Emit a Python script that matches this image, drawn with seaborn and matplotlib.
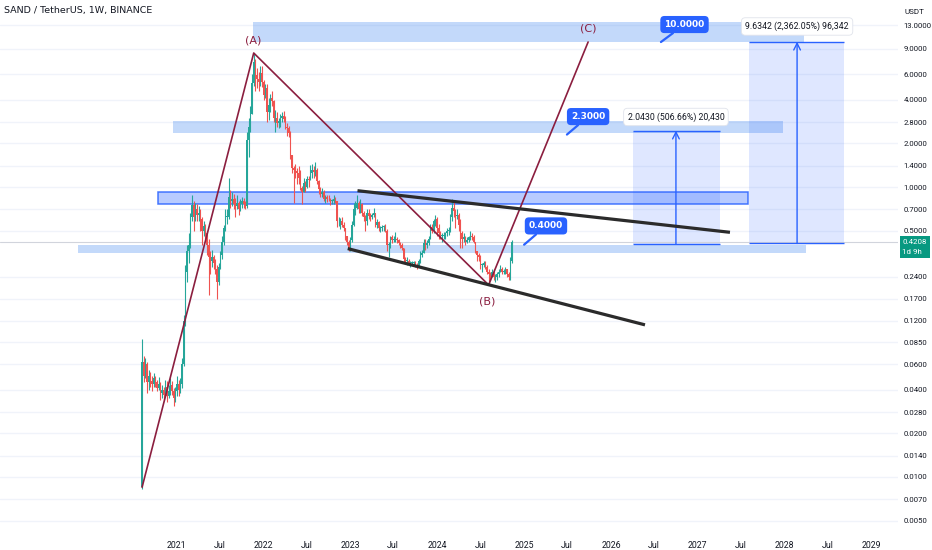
import numpy as np
import pandas as pd
import matplotlib
matplotlib.use("Agg")
import matplotlib.pyplot as plt
import matplotlib.dates as mdates
from matplotlib.patches import Rectangle
from matplotlib.ticker import NullLocator
import seaborn as sns

sns.set_style("white")
plt.rcParams['font.family'] = ['DejaVu Sans']
NARROW = ['Liberation Sans Narrow', 'Roboto', 'DejaVu Sans']

# ---------------- weekly candles (SAND/USDT, week starts) ----------------
first_week = "2020-08-10"
first_open = 0.0085

close_2020 = [0.062, 0.050, 0.060, 0.045, 0.050, 0.046, 0.044, 0.048, 0.045, 0.041, 0.044,
              0.038, 0.040, 0.037, 0.042, 0.036, 0.039, 0.043, 0.039, 0.035, 0.039]
high_2020 = [0.090, 0.068, 0.066, 0.062, 0.055, 0.053, 0.050, 0.052, 0.050, 0.047, 0.049,
             0.045, 0.043, 0.042, 0.047, 0.046, 0.043, 0.048, 0.046, 0.041, 0.042]
low_2020 = [0.0083, 0.045, 0.048, 0.038, 0.040, 0.042, 0.039, 0.042, 0.042, 0.039, 0.040,
            0.034, 0.035, 0.034, 0.036, 0.033, 0.035, 0.037, 0.037, 0.031, 0.033]

close_2021 = [0.044, 0.040, 0.044, 0.060,
              0.12, 0.26, 0.36, 0.40,
              0.62, 0.75, 0.62, 0.70, 0.64,
              0.66, 0.60, 0.50, 0.54,
              0.48, 0.40, 0.33, 0.31, 0.33,
              0.30, 0.27, 0.22, 0.28,
              0.34, 0.42, 0.52, 0.62,
              0.62, 0.85, 0.80, 0.82, 0.76,
              0.74, 0.78, 0.70, 0.76,
              0.80, 0.76, 0.74, 2.10,
              2.60, 3.20, 5.20, 7.30, 5.90,
              5.60, 5.30, 6.10, 5.30]
high_2021 = [0.050, 0.047, 0.048, 0.066,
             0.13, 0.29, 0.40, 0.48,
             0.66, 0.88, 0.80, 0.78, 0.76,
             0.74, 0.70, 0.62, 0.58,
             0.56, 0.50, 0.44, 0.36, 0.37,
             0.34, 0.32, 0.29, 0.30,
             0.36, 0.46, 0.55, 0.70,
             0.70, 1.15, 0.95, 0.92, 0.90,
             0.84, 0.88, 0.80, 0.82,
             0.86, 0.84, 0.80, 2.40,
             3.00, 3.60, 6.00, 8.40, 7.60,
             6.60, 6.20, 6.80, 6.80]
low_2021 = [0.036, 0.036, 0.038, 0.041,
            0.058, 0.11, 0.22, 0.30,
            0.38, 0.58, 0.50, 0.58, 0.58,
            0.58, 0.50, 0.40, 0.46,
            0.44, 0.34, 0.18, 0.25, 0.28,
            0.27, 0.25, 0.17, 0.21,
            0.27, 0.32, 0.40, 0.50,
            0.56, 0.60, 0.72, 0.74, 0.70,
            0.62, 0.70, 0.64, 0.68,
            0.72, 0.72, 0.70, 0.72,
            1.60, 2.40, 3.20, 5.00, 4.60,
            4.80, 4.60, 5.00, 4.90]

close_2022 = [4.3, 4.8, 3.3, 3.7, 4.1,
              3.9, 3.0, 3.0, 2.75,
              2.85, 3.0, 3.1, 2.95,
              2.6, 2.55, 2.35, 1.65,
              1.35, 1.30, 1.28, 1.25, 1.15,
              0.98, 0.92, 1.06, 1.00,
              1.13, 1.12, 1.25, 1.30,
              1.27, 1.30, 1.10, 0.97, 0.90,
              0.92, 0.83, 0.85, 0.83,
              0.82, 0.80, 0.80, 0.83, 0.80,
              0.58, 0.58, 0.58, 0.55,
              0.52, 0.46, 0.42, 0.37]
high_2022 = [5.5, 5.1, 5.1, 4.1, 4.4,
             4.6, 4.0, 3.4, 3.3,
             3.0, 3.2, 3.3, 3.35,
             3.1, 2.75, 2.65, 2.45,
             1.65, 1.40, 1.45, 1.35, 1.40,
             1.30, 1.02, 1.15, 1.10,
             1.20, 1.20, 1.42, 1.45,
             1.40, 1.48, 1.35, 1.12, 1.00,
             0.98, 0.96, 0.88, 0.88,
             0.88, 0.84, 0.82, 0.88, 0.85,
             0.80, 0.62, 0.61, 0.62,
             0.57, 0.52, 0.46, 0.43]
low_2022 = [4.0, 4.1, 2.8, 2.9, 3.3,
            3.6, 2.8, 2.4, 2.6,
            2.55, 2.6, 2.8, 2.8,
            2.5, 2.25, 2.2, 1.55,
            1.25, 0.78, 1.15, 1.05, 1.05,
            0.95, 0.76, 0.92, 0.93,
            0.98, 1.00, 1.12, 1.15,
            1.15, 1.20, 1.05, 0.90, 0.85,
            0.85, 0.80, 0.77, 0.79,
            0.80, 0.75, 0.76, 0.76, 0.78,
            0.53, 0.54, 0.51, 0.53,
            0.50, 0.43, 0.40, 0.36]

close_2023 = [0.43, 0.55, 0.70, 0.72, 0.78,
              0.70, 0.76, 0.66, 0.62,
              0.58, 0.66, 0.63, 0.62,
              0.64, 0.66, 0.55, 0.57,
              0.52, 0.52, 0.53, 0.54, 0.50,
              0.40, 0.40, 0.45, 0.43,
              0.44, 0.44, 0.43, 0.41, 0.40,
              0.38, 0.32, 0.31, 0.31,
              0.30, 0.30, 0.30, 0.30,
              0.29, 0.28, 0.31, 0.34, 0.35,
              0.41, 0.40, 0.41, 0.44,
              0.53, 0.50, 0.58, 0.60]
high_2023 = [0.45, 0.58, 0.78, 0.80, 0.88,
             0.80, 0.82, 0.78, 0.68,
             0.64, 0.70, 0.70, 0.66,
             0.66, 0.72, 0.66, 0.60,
             0.58, 0.54, 0.55, 0.55, 0.56,
             0.51, 0.42, 0.46, 0.47,
             0.46, 0.49, 0.45, 0.44, 0.42,
             0.41, 0.38, 0.33, 0.33,
             0.32, 0.31, 0.31, 0.31,
             0.31, 0.30, 0.32, 0.36, 0.37,
             0.44, 0.44, 0.43, 0.46,
             0.56, 0.56, 0.60, 0.64]
low_2023 = [0.36, 0.42, 0.54, 0.64, 0.70,
            0.66, 0.66, 0.63, 0.58,
            0.50, 0.55, 0.60, 0.58,
            0.60, 0.62, 0.53, 0.52,
            0.50, 0.49, 0.50, 0.50, 0.49,
            0.36, 0.33, 0.38, 0.41,
            0.42, 0.42, 0.41, 0.40, 0.38,
            0.37, 0.30, 0.30, 0.29,
            0.29, 0.28, 0.29, 0.29,
            0.28, 0.27, 0.28, 0.30, 0.33,
            0.35, 0.37, 0.38, 0.40,
            0.44, 0.48, 0.48, 0.54]

close_2024 = [0.52, 0.48, 0.46, 0.46, 0.46,
              0.48, 0.50, 0.50, 0.62,
              0.72, 0.68, 0.63, 0.64,
              0.55, 0.48, 0.44, 0.45, 0.42,
              0.43, 0.45, 0.46, 0.45,
              0.42, 0.36, 0.34, 0.33,
              0.29, 0.29, 0.30, 0.28, 0.26,
              0.25, 0.24, 0.26, 0.24,
              0.24, 0.25, 0.26, 0.27, 0.26,
              0.26, 0.27, 0.25, 0.24,
              0.31, 0.4208]
high_2024 = [0.62, 0.56, 0.50, 0.48, 0.49,
             0.49, 0.52, 0.53, 0.65,
             0.82, 0.80, 0.70, 0.70,
             0.66, 0.60, 0.50, 0.48, 0.46,
             0.45, 0.46, 0.50, 0.48,
             0.47, 0.42, 0.36, 0.35,
             0.34, 0.30, 0.31, 0.31, 0.29,
             0.27, 0.26, 0.27, 0.27,
             0.25, 0.26, 0.27, 0.29, 0.28,
             0.27, 0.28, 0.27, 0.26,
             0.33, 0.43]
low_2024 = [0.46, 0.44, 0.44, 0.42, 0.44,
            0.44, 0.46, 0.47, 0.49,
            0.58, 0.62, 0.52, 0.60,
            0.50, 0.38, 0.38, 0.42, 0.40,
            0.41, 0.42, 0.43, 0.43,
            0.41, 0.35, 0.31, 0.31,
            0.27, 0.26, 0.28, 0.27, 0.25,
            0.21, 0.23, 0.24, 0.23,
            0.22, 0.23, 0.24, 0.26, 0.25,
            0.25, 0.25, 0.24, 0.23,
            0.23, 0.30]

last_price = 0.4208

# ---------------- drawings ----------------
wave_dates = ["2020-08-10", "2021-11-22", "2024-08-05", "2025-09-27"]
wave_prices = [0.0085, 8.4, 0.211, 10.0]
wave_labels = ["(A)", "(B)", "(C)"]
wave_label_dates = ["2021-11-20", "2024-07-29", "2025-09-29"]
wave_label_prices = [10.3, 0.163, 12.4]

wedge_upper_dates = ["2023-02-01", "2027-05-16"]
wedge_upper_prices = [0.943, 0.487]
wedge_lower_dates = ["2022-12-22", "2026-05-24"]
wedge_lower_prices = [0.376, 0.112]

zone_starts = ["2021-11-20", "2020-12-19", "2020-10-17", "2019-11-15"]
zone_ends = ["2028-03-22", "2027-12-25", "2027-07-31", "2028-03-31"]
zone_lows = [9.96, 2.37, 0.764, 0.349]
zone_highs = [13.8, 2.87, 0.928, 0.398]
zone_bordered = [False, False, True, False]

measure_starts = ["2026-04-04", "2027-08-04"]
measure_ends = ["2027-04-04", "2028-09-06"]
measure_mids = ["2026-10-01", "2028-02-22"]
measure_base = [0.4032, 0.4079]
measure_top = [2.4462, 10.0421]
measure_texts = ["2.0430 (506.66%) 20,430", "9.6342 (2,362.05%) 96,342"]
measure_text_prices = [3.04, 12.8]

callout_texts = ["10.0000", "2.3000", "0.4000"]
callout_tip_dates = ["2026-07-30", "2025-06-30", "2025-01-01"]
callout_tip_prices = [10.0, 2.3, 0.40]
callout_box_dates = ["2026-11-06", "2025-09-27", "2025-04-03"]
callout_box_prices = [13.2, 3.06, 0.539]

ytick_values = [13, 9, 6, 4, 2.8, 2, 1.4, 1, 0.7, 0.5, 0.24, 0.17, 0.12, 0.085,
                0.06, 0.04, 0.028, 0.02, 0.014, 0.01, 0.007, 0.005]
xtick_dates = ["2021-01-01", "2021-07-01", "2022-01-01", "2022-07-01", "2023-01-01",
               "2023-07-01", "2024-01-01", "2024-07-01", "2025-01-01", "2025-07-01",
               "2026-01-01", "2026-07-01", "2027-01-01", "2027-07-01", "2028-01-01",
               "2028-07-01", "2029-01-01"]
xtick_labels = ["2021", "Jul", "2022", "Jul", "2023", "Jul", "2024", "Jul", "2025", "Jul",
                "2026", "Jul", "2027", "Jul", "2028", "Jul", "2029"]

# ---------------- assemble ----------------
close = close_2020 + close_2021 + close_2022 + close_2023 + close_2024
high = high_2020 + high_2021 + high_2022 + high_2023 + high_2024
low = low_2020 + low_2021 + low_2022 + low_2023 + low_2024
opens = [first_open] + close[:-1]
dates = pd.date_range(first_week, periods=len(close), freq="7D")
df = pd.DataFrame({"date": dates, "open": opens, "high": high, "low": low, "close": close})

UP, DOWN = "#26a69a", "#ef5350"
BLUE = "#2962ff"
MAROON = "#8b1e3f"
TXT = "#131722"

W, H = 932, 550
fig = plt.figure(figsize=(W / 100, H / 100), dpi=100)
ax = fig.add_axes([0, 22 / H, 898 / W, 528 / H])
ax.set_yscale("log")

D = lambda s: mdates.date2num(pd.Timestamp(s))

# zones
for s, e, lo, hi, b in zip(zone_starts, zone_ends, zone_lows, zone_highs, zone_bordered):
    if b:
        ax.add_patch(Rectangle((D(s), lo), D(e) - D(s), hi - lo, facecolor=BLUE, alpha=0.33,
                               edgecolor="none", zorder=1))
        ax.add_patch(Rectangle((D(s), lo), D(e) - D(s), hi - lo, facecolor="none",
                               edgecolor=BLUE, lw=1.1, alpha=0.85, zorder=1.1))
    else:
        ax.add_patch(Rectangle((D(s), lo), D(e) - D(s), hi - lo, facecolor="#4a8cf0",
                               alpha=0.33, edgecolor="none", zorder=1))

# measurement boxes
for s, e, m, b0, t0, txt, tp in zip(measure_starts, measure_ends, measure_mids, measure_base,
                                     measure_top, measure_texts, measure_text_prices):
    ax.add_patch(Rectangle((D(s), b0), D(e) - D(s), t0 - b0, facecolor=BLUE, alpha=0.15,
                           edgecolor="none", zorder=1))
    ax.hlines([b0, t0], D(s), D(e), colors=BLUE, lw=1.0, zorder=2)
    ax.annotate("", xy=(D(m), t0), xytext=(D(m), b0),
                arrowprops=dict(arrowstyle="->", color=BLUE, lw=1.0, shrinkA=0, shrinkB=0,
                                mutation_scale=12), zorder=2)
    ax.text(D(m), tp, txt, ha="center", va="center", fontsize=6.3, color=TXT, zorder=6,
            family=NARROW,
            bbox=dict(boxstyle="round,pad=0.45", fc="white", ec="#e0e3eb", lw=0.6))

# current price line
ax.axhline(last_price, color="#d1d4dc", lw=0.8, zorder=1.5)

# candles
up = df["close"] >= df["open"]
cols = np.where(up, UP, DOWN)
ax.vlines(df["date"], df["low"], df["high"], colors=cols, lw=0.8, zorder=3)
body_lo = np.minimum(df["open"], df["close"])
body_hi = np.maximum(df["open"], df["close"])
body_h = np.maximum(body_hi - body_lo, body_lo * 0.01)
ax.bar(df["date"], body_h, bottom=body_lo, width=6.0, color=cols, linewidth=0, zorder=3.2)

# wave path and wedge lines with seaborn
wave_df = pd.DataFrame({"date": pd.to_datetime(wave_dates), "price": wave_prices})
sns.lineplot(data=wave_df, x="date", y="price", sort=False, estimator=None, color=MAROON,
             lw=1.2, ax=ax, zorder=4)
for dd, pp in [(wedge_upper_dates, wedge_upper_prices), (wedge_lower_dates, wedge_lower_prices)]:
    ldf = pd.DataFrame({"date": pd.to_datetime(dd), "price": pp})
    sns.lineplot(data=ldf, x="date", y="price", sort=False, estimator=None, color="#2b2b2b",
                 lw=2.3, ax=ax, zorder=4.5, solid_capstyle="butt")

for lab, dd, pp in zip(wave_labels, wave_label_dates, wave_label_prices):
    ax.text(D(dd), pp, lab, ha="center", va="center", fontsize=8, color=MAROON, zorder=6)

# callouts
for txt, td, tp, bd, bp in zip(callout_texts, callout_tip_dates, callout_tip_prices,
                               callout_box_dates, callout_box_prices):
    ax.annotate(txt, xy=(D(td), tp), xytext=(D(bd), bp), ha="center", va="center",
                fontsize=6.5, fontweight="bold", color="white", zorder=7,
                bbox=dict(boxstyle="round,pad=0.45", fc=BLUE, ec="none"),
                arrowprops=dict(arrowstyle="-", color=BLUE, lw=1.6, shrinkA=0, shrinkB=0))

# axes setup
ax.set_xlim(pd.Timestamp("2018-12-22"), pd.Timestamp("2029-04-21"))
ax.set_ylim(0.004447, 19.49)
ax.yaxis.tick_right()
ax.set_yticks(ytick_values)
ax.set_yticklabels([f"{v:.4f}" for v in ytick_values])
ax.yaxis.set_minor_locator(NullLocator())
ax.set_xticks(pd.to_datetime(xtick_dates))
ax.set_xticklabels(xtick_labels)
ax.tick_params(axis="y", length=0, pad=4, labelsize=5.6, colors=TXT)
ax.tick_params(axis="x", length=0, pad=9, labelsize=6.3, colors=TXT)
for lbl in ax.get_yticklabels() + ax.get_xticklabels():
    lbl.set_family(NARROW)
ax.set_xlabel("")
ax.set_ylabel("")
ax.grid(axis="y", color="#f0f3fa", lw=1.0, zorder=0)
ax.grid(axis="x", visible=False)
ax.set_axisbelow(True)
for s in ax.spines.values():
    s.set_visible(False)

# header and price badge
fig.text(4 / W, 1 - 11 / H, "SAND / TetherUS, 1W, BINANCE", fontsize=6.8, color=TXT,
         va="center", ha="left")
fig.text(914 / W, 1 - 12 / H, "USDT", fontsize=5.8, color=TXT, va="center", ha="center",
         family=NARROW)
fig.add_artist(Rectangle((900 / W, 1 - 258 / H), 30 / W, 22 / H, transform=fig.transFigure,
                         facecolor="#089981", edgecolor="none"))
fig.text(902.5 / W, 1 - 241.5 / H, f"{last_price:.4f}", fontsize=5.7, color="white",
         va="center", family=NARROW)
fig.text(902.5 / W, 1 - 251.5 / H, "1d 9h", fontsize=5.7, color="white", va="center",
         family=NARROW)

fig.savefig("out.png", dpi=100)
